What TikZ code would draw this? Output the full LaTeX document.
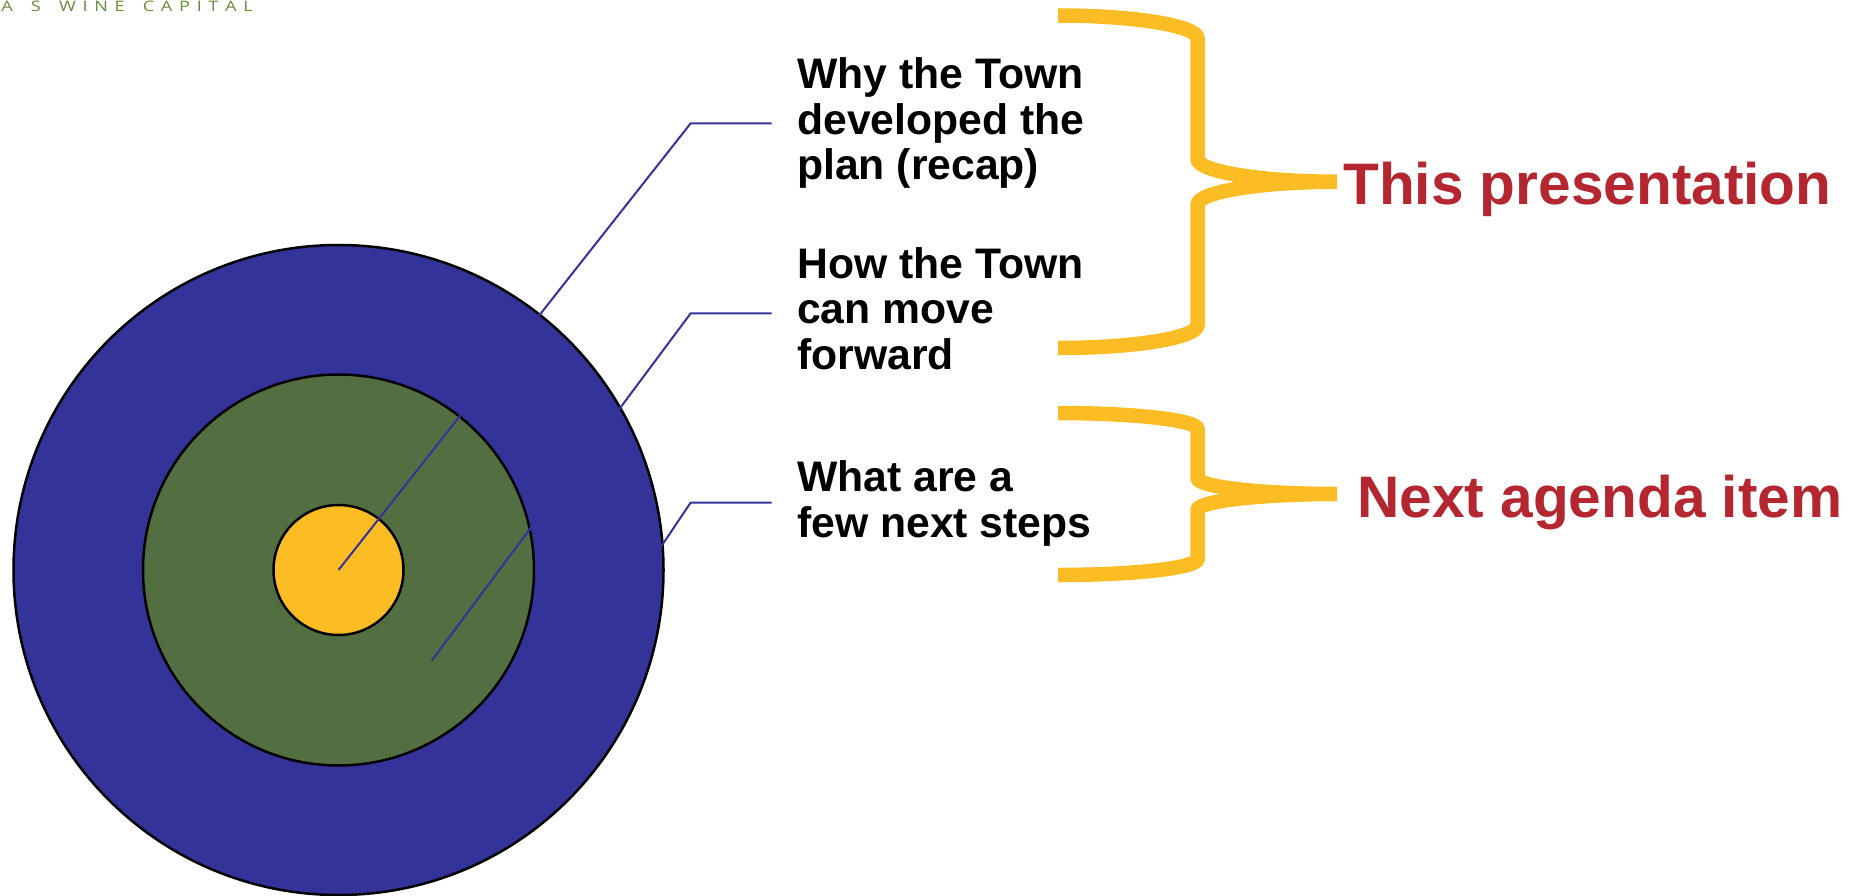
\documentclass[tikz,border=0pt]{standalone}
\usepackage{fontspec}
\setmainfont{Liberation Sans}
\newfontfamily\topfont[FakeStretch=1.25]{Open Sans}
\definecolor{ringblue}{RGB}{51,51,153}
\definecolor{ringgreen}{RGB}{83,111,65}
\definecolor{coreyellow}{RGB}{252,188,36}
\definecolor{tagred}{RGB}{180,38,48}
\definecolor{headgreen}{RGB}{104,140,56}
\newcommand\lsp{\kern6.7pt}
\begin{document}
\begin{tikzpicture}[x=1pt,y=-1pt,
  ring/.style={circle, draw=black, line width=2.5pt, inner sep=0pt},
  leader/.style={draw=ringblue, line width=2pt},
  item/.style={font=\fontsize{42.7}{45.7}\selectfont\bfseries, align=left, inner sep=0pt, anchor=base west},
  tag/.style={font=\fontsize{58.6}{62}\selectfont\bfseries, text=tagred, inner sep=0pt, anchor=base west},
  bracestroke/.style={draw=coreyellow, line width=14.5pt}]
\useasboundingbox (0,0) rectangle (1863,896);
\fill[white] (0,0) rectangle (1863,896);

% header
\node[inner sep=0pt, anchor=base west, text=headgreen, font=\fontsize{14.5}{16}\selectfont\topfont] (head) at (1.2,11.7)
  {A\lsp{} \lsp S\lsp{} \lsp W\lsp I\lsp N\lsp E\lsp{} \lsp C\lsp A\lsp P\lsp I\lsp T\lsp A\lsp L};

% target rings
\node[ring, fill=ringblue, minimum size=650pt] (outer) at (338.5,570) {};
\node[ring, fill=ringgreen, minimum size=391pt] (middle) at (338.5,570) {};
\node[ring, fill=coreyellow, minimum size=130pt] (core) at (338.5,570) {};

% leader lines
\coordinate (s2) at (431.7,660.7);
\coordinate (s3) at (620,607.8);
\coordinate (e1) at (690.7,123.3);
\coordinate (e2) at (690.7,313.3);
\coordinate (e3) at (690.7,502.5);
\coordinate (t1) at (771.7,123.3);
\coordinate (t2) at (771.7,313.3);
\coordinate (t3) at (771.7,502.5);
\draw[leader] (core.center) -- (e1) -- (t1);
\draw[leader] (s2) -- (e2) -- (t2);
\draw[leader] (s3) -- (e3) -- (t3);

% item texts (anchor = baseline of last line)
\node[item] (why) at (797,180) {Why the Town\\developed the\\plan (recap)};
\node[item] (how) at (797,369.5) {How the Town\\can move\\forward};
\node[item] (what) at (797,537) {What are a\\few next steps};

% braces
\draw[bracestroke] (1058,15.5) .. controls (1135,15.5) and (1197.5,25.8) .. (1197.5,38.5)
  -- (1197.5,158.75)
  .. controls (1197.5,171.45) and (1260,181.75) .. (1337,181.75)
  .. controls (1260,181.75) and (1197.5,192.05) .. (1197.5,204.75)
  -- (1197.5,325)
  .. controls (1197.5,337.7) and (1135,348) .. (1058,348);
\draw[bracestroke] (1058,413) .. controls (1135,413) and (1197.5,420.2) .. (1197.5,429)
  -- (1197.5,478)
  .. controls (1197.5,486.8) and (1260,494) .. (1337,494)
  .. controls (1260,494) and (1197.5,501.2) .. (1197.5,510)
  -- (1197.5,559)
  .. controls (1197.5,567.8) and (1135,575) .. (1058,575);

% tags
\node[tag] (thispres) at (1343,205) {This presentation};
\node[tag] (nextitem) at (1357,517) {Next agenda item};
\end{tikzpicture}
\end{document}
